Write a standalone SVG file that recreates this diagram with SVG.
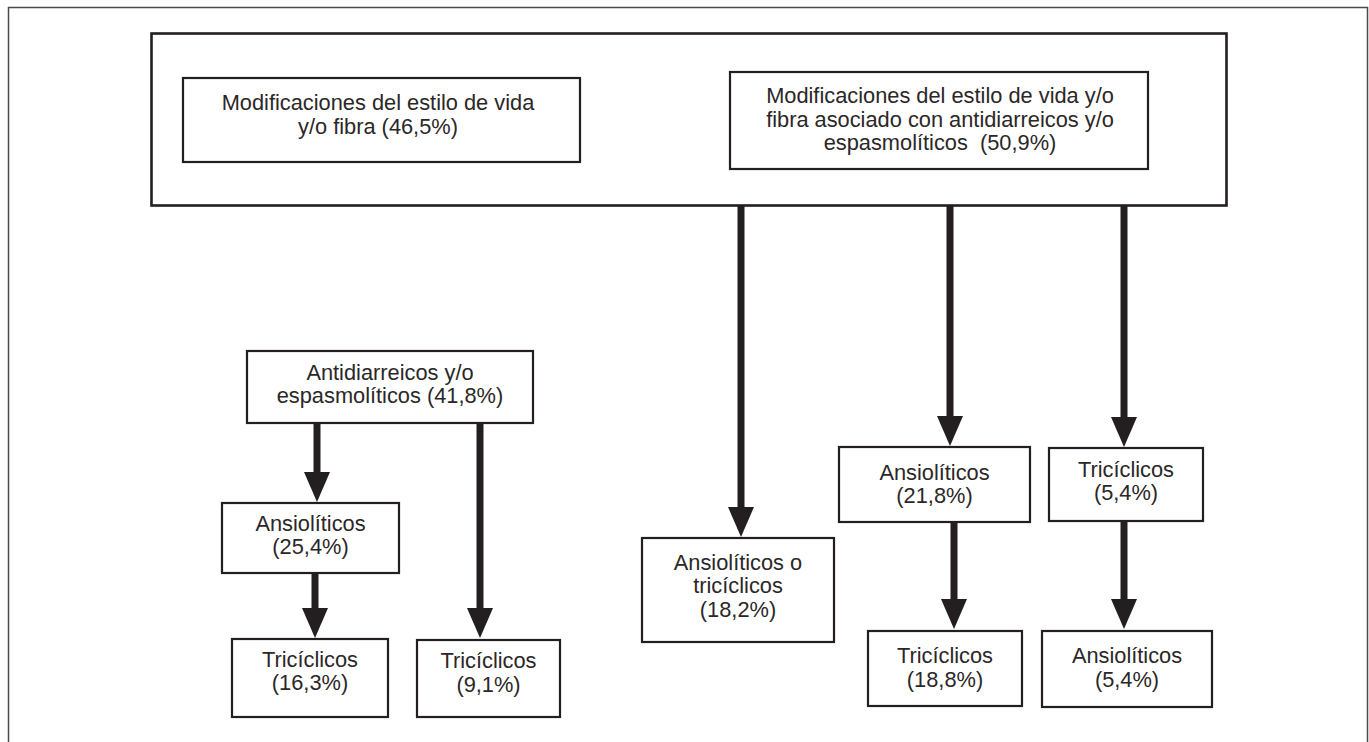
<svg xmlns="http://www.w3.org/2000/svg" width="1369" height="742" viewBox="0 0 1369 742">
<style>
.frame{fill:none;stroke:#4a4a4a;stroke-width:1.5}
.box{fill:#fff;stroke:#231f20;stroke-width:2.2}
.main{fill:#fff;stroke:#231f20;stroke-width:2.6}
text{font-family:"Liberation Sans",Arial,sans-serif;font-size:21.8px;fill:#2b2728;text-anchor:middle}
.conn line{stroke:#231f20;stroke-width:7;marker-end:url(#ah)}
</style>
<defs>
<marker id="ah" markerUnits="userSpaceOnUse" viewBox="0 0 30 26" refX="1" refY="13" markerWidth="30" markerHeight="26" orient="auto">
<path d="M0,0 L30,13 L0,26 Z" fill="#231f20"/>
</marker>
</defs>
<rect width="1369" height="742" fill="#fff"/>
<path class="frame" d="M8.5,742 V7.5 H1367.5 V742"/>
<g id="main">
<rect class="main" x="151.5" y="33.5" width="1075" height="172"/>
</g>
<g id="n-estilo">
<rect class="box" x="183" y="78" width="397" height="84"/>
<text x="378" y="110">Modificaciones del estilo de vida</text>
<text x="378" y="134">y/o fibra (46,5%)</text>
</g>
<g id="n-estilo-anti">
<rect class="box" x="730" y="72" width="418" height="97"/>
<text x="940" y="103">Modificaciones del estilo de vida y/o</text>
<text x="940" y="127">fibra asociado con antidiarreicos y/o</text>
<text x="940" y="150">espasmolíticos&#160; (50,9%)</text>
</g>
<g id="n-antidiarr">
<rect class="box" x="247" y="351" width="286" height="72"/>
<text x="390" y="380">Antidiarreicos y/o</text>
<text x="390" y="403">espasmolíticos (41,8%)</text>
</g>
<g id="n-ans25">
<rect class="box" x="222" y="503" width="177" height="70"/>
<text x="310.5" y="531">Ansiolíticos</text>
<text x="310.5" y="554">(25,4%)</text>
</g>
<g id="n-tri16">
<rect class="box" x="232" y="639" width="156" height="78"/>
<text x="310" y="667">Tricíclicos</text>
<text x="310" y="690">(16,3%)</text>
</g>
<g id="n-tri9">
<rect class="box" x="417" y="640" width="143" height="77"/>
<text x="488.5" y="668">Tricíclicos</text>
<text x="488.5" y="692">(9,1%)</text>
</g>
<g id="n-anstri18">
<rect class="box" x="642" y="538" width="192" height="104"/>
<text x="738" y="570">Ansiolíticos o</text>
<text x="738" y="593">tricíclicos</text>
<text x="738" y="617">(18,2%)</text>
</g>
<g id="n-ans21">
<rect class="box" x="839" y="447" width="191" height="75"/>
<text x="934.5" y="480">Ansiolíticos</text>
<text x="934.5" y="503">(21,8%)</text>
</g>
<g id="n-tri18">
<rect class="box" x="868" y="631" width="154" height="75"/>
<text x="945" y="663">Tricíclicos</text>
<text x="945" y="687">(18,8%)</text>
</g>
<g id="n-tri5">
<rect class="box" x="1049" y="448" width="154" height="73"/>
<text x="1126" y="477">Tricíclicos</text>
<text x="1126" y="500">(5,4%)</text>
</g>
<g id="n-ans5">
<rect class="box" x="1042" y="631" width="170" height="76"/>
<text x="1127" y="663">Ansiolíticos</text>
<text x="1127" y="687">(5,4%)</text>
</g>
<g id="connectors" class="conn">
<line x1="741" y1="206" x2="741" y2="508"/>
<line x1="950" y1="206" x2="950" y2="417"/>
<line x1="1124" y1="206" x2="1124" y2="418"/>
<line x1="954" y1="522" x2="954" y2="600"/>
<line x1="1124" y1="521" x2="1124" y2="600"/>
<line x1="317" y1="423" x2="317" y2="473"/>
<line x1="315" y1="573" x2="315" y2="609"/>
<line x1="480" y1="423" x2="480" y2="609"/>
</g>
</svg>
